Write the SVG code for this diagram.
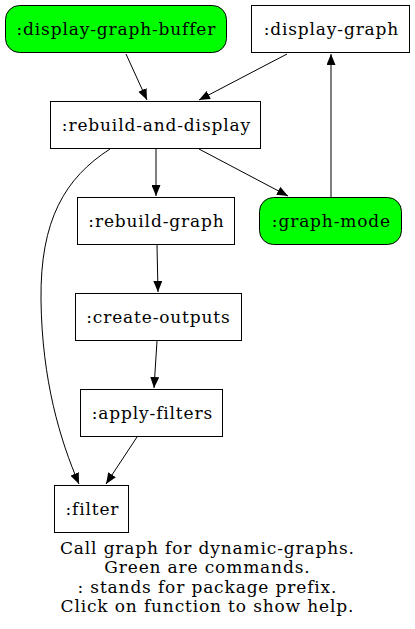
<svg xmlns="http://www.w3.org/2000/svg" width="415" height="629" viewBox="0 0 415 629">
<style>
.n rect{stroke:#000;stroke-width:1;fill:#fff}
.n.cmd rect{fill:#00ff00}
text{font-family:"DejaVu Serif",serif;font-size:17px;letter-spacing:0.85px;fill:#000;text-anchor:middle}
#edges path{fill:none;stroke:#000;stroke-width:1;marker-end:url(#ah)}
</style>
<defs>
<marker id="ah" markerUnits="userSpaceOnUse" markerWidth="11" markerHeight="9" refX="11" refY="4.5" orient="auto">
<path d="M0,0 L11,4.5 L0,9 z" fill="#000"/>
</marker>
</defs>
<rect width="415" height="629" fill="#fff"/>
<g id="edges">
<path d="M126,54 L147,100"/>
<path d="M287,54 L199,100"/>
<path d="M331,197 L331,54"/>
<path d="M156,149 L156,196"/>
<path d="M199,149 L288,196"/>
<path d="M110,149 C65,178 40,220 41,300 C42,380 60,440 79,484"/>
<path d="M157,245 L158,292"/>
<path d="M157,341 L154,388"/>
<path d="M137,437 L106,484"/>
</g>
<g id="display-graph-buffer" class="n cmd"><rect x="5.5" y="5.5" width="221" height="47" rx="14"/><text x="116.4" y="35">:display-graph-buffer</text></g>
<g id="display-graph" class="n"><rect x="251.5" y="5.5" width="158" height="47"/><text x="331.4" y="35">:display-graph</text></g>
<g id="rebuild-and-display" class="n"><rect x="50.5" y="101.5" width="210" height="47"/><text x="156.4" y="131">:rebuild-and-display</text></g>
<g id="rebuild-graph" class="n"><rect x="77.5" y="197.5" width="157" height="47"/><text x="156.4" y="227">:rebuild-graph</text></g>
<g id="graph-mode" class="n cmd"><rect x="259.5" y="197.5" width="142" height="47" rx="14"/><text x="331.4" y="227">:graph-mode</text></g>
<g id="create-outputs" class="n"><rect x="75.5" y="293.5" width="166" height="47"/><text x="158.4" y="323">:create-outputs</text></g>
<g id="apply-filters" class="n"><rect x="80.5" y="389.5" width="142" height="47"/><text x="152.4" y="419">:apply-filters</text></g>
<g id="filter" class="n"><rect x="54.5" y="485.5" width="74" height="47"/><text x="92.4" y="515">:filter</text></g>
<g id="caption">
<text x="207.4" y="554">Call graph for dynamic-graphs.</text>
<text x="207.4" y="573">Green are commands.</text>
<text x="207.4" y="593">: stands for package prefix.</text>
<text x="207.4" y="612">Click on function to show help.</text>
</g>
</svg>
